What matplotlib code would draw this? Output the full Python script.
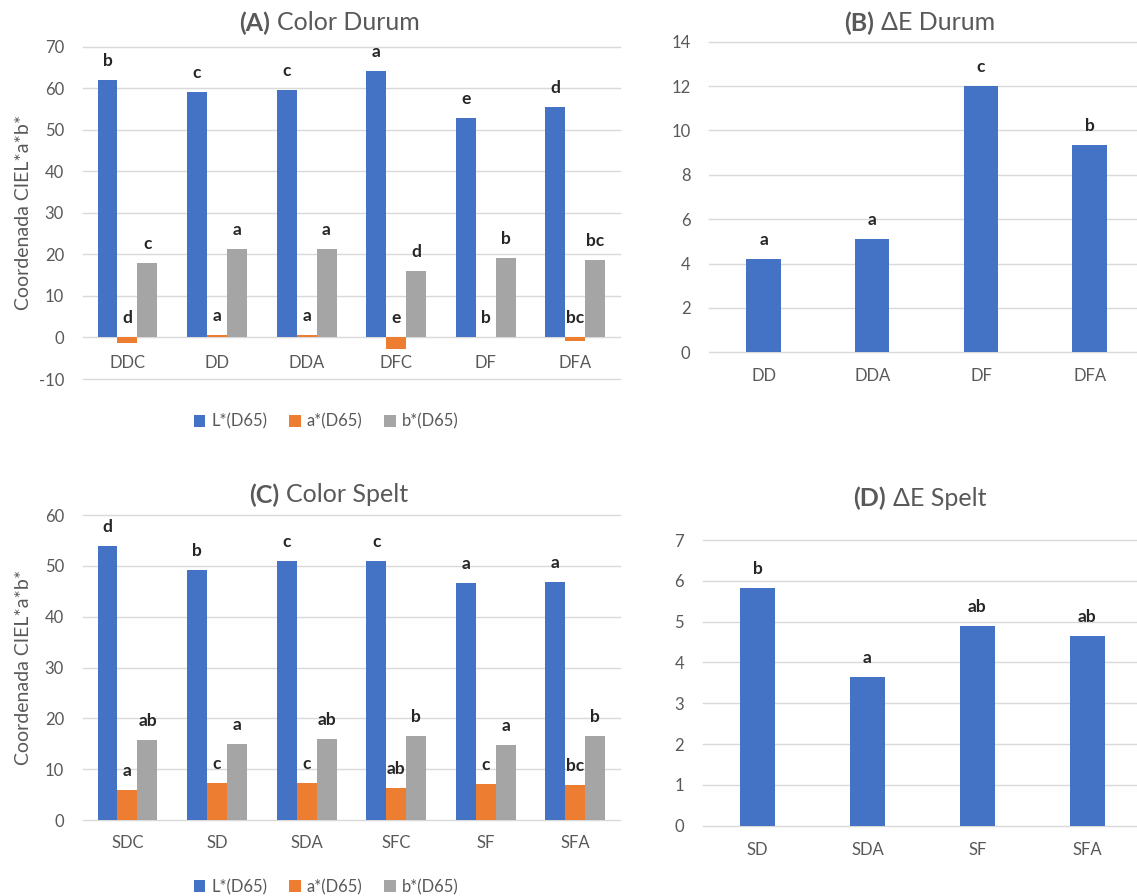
import numpy as np
import matplotlib
matplotlib.use("Agg")
import matplotlib.pyplot as plt
from matplotlib.patches import Patch

plt.rcParams["font.family"] = ["Lato", "DejaVu Sans"]
plt.rcParams["axes.unicode_minus"] = False

# ---- datos: trigo duro ----
cat_durum = ["DDC", "DD", "DDA", "DFC", "DF", "DFA"]
L_durum = [62.1, 59.0, 59.6, 64.1, 52.8, 55.4]
a_durum = [-1.3, 0.5, 0.6, -2.7, 0.1, -0.8]
b_durum = [17.9, 21.2, 21.4, 15.9, 19.2, 18.6]
L_durum_let = ["b", "c", "c", "a", "e", "d"]
a_durum_let = ["d", "a", "a", "e", "b", "bc"]
b_durum_let = ["c", "a", "a", "d", "b", "bc"]

cat_dE_durum = ["DD", "DDA", "DF", "DFA"]
dE_durum = [4.19, 5.09, 12.0, 9.34]
dE_durum_let = ["a", "a", "c", "b"]

# ---- datos: espelta ----
cat_spelt = ["SDC", "SD", "SDA", "SFC", "SF", "SFA"]
L_spelt = [54.0, 49.2, 51.0, 50.9, 46.7, 46.8]
a_spelt = [5.9, 7.3, 7.3, 6.2, 7.1, 6.9]
b_spelt = [15.7, 15.0, 15.9, 16.5, 14.7, 16.6]
L_spelt_let = ["d", "b", "c", "c", "a", "a"]
a_spelt_let = ["a", "c", "c", "ab", "c", "bc"]
b_spelt_let = ["ab", "a", "ab", "b", "a", "b"]

cat_dE_spelt = ["SD", "SDA", "SF", "SFA"]
dE_spelt = [5.82, 3.65, 4.90, 4.65]
dE_spelt_let = ["b", "a", "ab", "ab"]

series_names = ["L*(D65)", "a*(D65)", "b*(D65)"]
colores = ["#4472C4", "#ED7D31", "#A5A5A5"]
gris_txt = "#595959"
W, H = 1137, 896

fig = plt.figure(figsize=(W / 100, H / 100), dpi=100)


def eje(rect):
    l, t, r, b = rect
    return fig.add_axes([l / W, 1 - b / H, (r - l) / W, (b - t) / H])


def estilo(ax, ymin, ymax, paso, cats, off):
    ax.set_ylim(ymin, ymax)
    ax.set_yticks(np.arange(ymin, ymax + paso / 2, paso))
    ax.set_xlim(-0.5, len(cats) - 0.5)
    ax.set_xticks([])
    for s in ax.spines.values():
        s.set_visible(False)
    ax.yaxis.grid(True, color="#D9D9D9", lw=1.0)
    for gl in ax.get_ygridlines():
        gl.set_clip_on(False)
    ax.set_axisbelow(True)
    ax.tick_params(axis="y", length=0, pad=13.5, labelsize=12, labelcolor=gris_txt)
    for i, c in enumerate(cats):
        ax.annotate(c, (i, 0), xytext=(0, -off), textcoords="offset pixels",
                    ha="center", va="center", fontsize=12, color=gris_txt)


def letras(ax, xs, vals, lets):
    for x, v, t in zip(xs, vals, lets):
        ax.annotate(t, (x, max(v, 0)), xytext=(0, 14), textcoords="offset pixels",
                    ha="center", va="baseline", fontsize=12.5, fontweight="bold",
                    color="#262626")


def titulo(xc, yc, tag, resto):
    r = fig.canvas.get_renderer()
    t1 = fig.text(0, 1 - yc / H, tag, fontsize=18, fontweight="bold",
                  color=gris_txt, va="center", ha="left")
    t2 = fig.text(0, 1 - yc / H, resto, fontsize=18, color=gris_txt,
                  va="center", ha="left")
    w1 = t1.get_window_extent(r).width
    w2 = t2.get_window_extent(r).width
    gap = 7
    x0 = xc - (w1 + gap + w2) / 2
    t1.set_x(x0 / W)
    t2.set_x((x0 + w1 + gap) / W)


def grupos(ax, L, a, b, Ll, al, bl):
    x = np.arange(len(L))
    w = 0.223
    for k, (vals, lets) in enumerate([(L, Ll), (a, al), (b, bl)]):
        xs = x + (k - 1) * w
        ax.bar(xs, vals, width=w, color=colores[k], zorder=2)
        letras(ax, xs, vals, lets)


def leyenda(xc, yc):
    handles = [Patch(facecolor=c) for c in colores]
    fig.legend(handles, series_names, loc="center",
               bbox_to_anchor=(xc / W, 1 - yc / H), ncol=3, frameon=False,
               fontsize=12, handlelength=0.7, handleheight=0.7,
               handletextpad=0.35, columnspacing=1.3, labelcolor=gris_txt)


# (A) color trigo duro
axA = eje((82.7, 46.7, 620.0, 379.0))
estilo(axA, -10, 70, 10, cat_durum, 26)
grupos(axA, L_durum, a_durum, b_durum, L_durum_let, a_durum_let, b_durum_let)
axA.set_ylabel("Coordenada CIEL*a*b*", fontsize=14, color=gris_txt)
axA.yaxis.set_label_coords(-0.094, 0.5)
titulo(329, 23, "(A)", "Color Durum")
leyenda(326, 421.7)

# (B) delta E trigo duro
axB = eje((709.3, 41.7, 1144.0, 352.3))
estilo(axB, 0, 14, 2, cat_dE_durum, 24)
axB.bar(np.arange(4), dE_durum, width=0.316, color=colores[0], zorder=2)
letras(axB, np.arange(4), dE_durum, dE_durum_let)
titulo(920, 23, "(B)", "ΔE Durum")

# (C) color espelta
axC = eje((82.7, 515.0, 620.0, 820.0))
estilo(axC, 0, 60, 10, cat_spelt, 23)
grupos(axC, L_spelt, a_spelt, b_spelt, L_spelt_let, a_spelt_let, b_spelt_let)
axC.set_ylabel("Coordenada CIEL*a*b*", fontsize=14, color=gris_txt)
axC.yaxis.set_label_coords(-0.094, 0.5)
titulo(328.5, 495, "(C)", "Color Spelt")
leyenda(326, 887)

# (D) delta E espelta
axD = eje((702.7, 540.0, 1142.0, 825.7))
estilo(axD, 0, 7, 1, cat_dE_spelt, 24)
axD.bar(np.arange(4), dE_spelt, width=0.32, color=colores[0], zorder=2)
letras(axD, np.arange(4), dE_spelt, dE_spelt_let)
titulo(920, 498, "(D)", "ΔE Spelt")

fig.savefig("out.png", dpi=100)
